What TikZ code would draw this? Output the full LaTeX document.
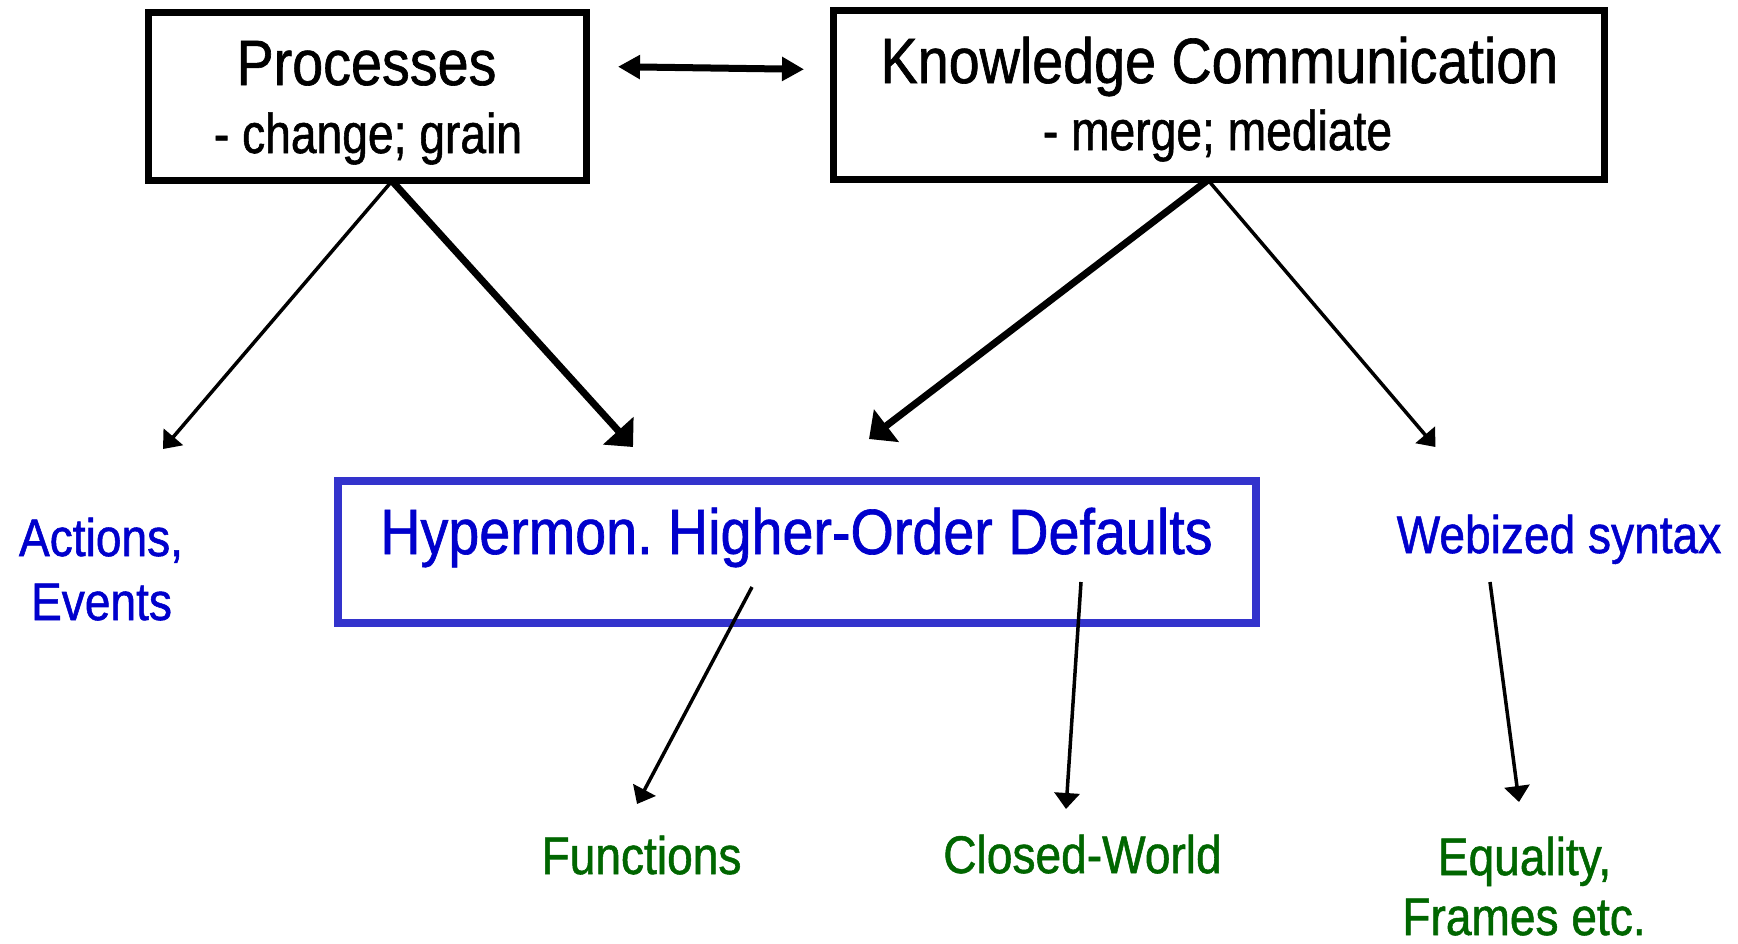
\documentclass[tikz,border=0pt]{standalone}
\usepackage{fontspec}
\setmainfont{Liberation Sans}
\newfontfamily\fbig[FakeStretch=0.87,FakeBold=1]{Liberation Sans}
\newfontfamily\fhyp[FakeStretch=0.87,FakeBold=1]{Liberation Sans}
\newfontfamily\fsub[FakeStretch=0.825,FakeBold=1]{Liberation Sans}
\newfontfamily\flab[FakeStretch=0.87,FakeBold=1]{Liberation Sans}
\usetikzlibrary{arrows.meta}
\definecolor{boxblue}{RGB}{51,51,204}
\definecolor{txtblue}{RGB}{0,0,204}
\definecolor{txtgreen}{RGB}{0,102,0}
\frenchspacing
\begin{document}
\begin{tikzpicture}[x=0.5pt,y=-0.5pt,
  blackbox/.style={draw=black,line width=3.5pt,inner sep=0pt},
  bluebox/.style={draw=boxblue,line width=4pt,inner sep=0pt},
  bigtxt/.style={inner sep=0pt,anchor=base,font=\fbig\fontsize{32pt}{38pt}\selectfont},
  hyptxt/.style={inner sep=0pt,anchor=base,text=txtblue,font=\fhyp\fontsize{32pt}{38pt}\selectfont},
  subtxt/.style={inner sep=0pt,anchor=base,font=\fsub\fontsize{28pt}{33pt}\selectfont},
  bluelab/.style={inner sep=0pt,anchor=base,text=txtblue,font=\flab\fontsize{26.5pt}{31pt}\selectfont},
  greenlab/.style={inner sep=0pt,anchor=base,text=txtgreen,font=\flab\fontsize{26.5pt}{31pt}\selectfont},
  thinarr/.style={-{Triangle[length=8pt,width=12.5pt]},line width=1.75pt},
  thickarr/.style={-{Triangle[length=11pt,width=20pt]},line width=3.5pt},
  dblarr/.style={{Triangle[length=11pt,width=11.5pt]}-{Triangle[length=11pt,width=11.5pt]},line width=3.5pt}]
\useasboundingbox[fill=white] (0,0) rectangle (1738,943);

% boxes
\node[blackbox,minimum width=219pt,minimum height=84pt] (proc) at (367.5,96.5) {};
\node[blackbox,minimum width=385.5pt,minimum height=84.5pt] (kc) at (1219,95) {};
\node[bluebox,minimum width=459pt,minimum height=71pt] (hyp) at (797,552) {};

% box texts
\node[bigtxt] (proct) at (366.5,85) {Processes};
\node[subtxt] (procs) at (368,153) {- change; grain};
\node[bigtxt] (kct) at (1219.5,83) {Knowledge Communication};
\node[subtxt] (kcs) at (1217.5,150) {- merge; mediate};
\node[hyptxt] (hypt) at (796.5,554) {Hypermon. Higher-Order Defaults};

% labels
\node[bluelab] (act1) at (101,556) {Actions,};
\node[bluelab] (act2) at (101.5,620) {Events};
\node[bluelab] (web) at (1559,553) {Webized syntax};
\node[greenlab] (func) at (641.5,874) {Functions};
\node[greenlab] (cw) at (1082.5,873) {Closed-World};
\node[greenlab] (eq1) at (1524.5,875) {Equality,};
\node[greenlab] (eq2) at (1524,935) {Frames etc.};

% connector end points
\coordinate (da1) at (618,66.7);
\coordinate (da2) at (804,69.3);
\coordinate (ps) at (392,181);
\coordinate (ks) at (1208,180);
\coordinate (actTip) at (163,449);
\coordinate (hypTipL) at (633,447);
\coordinate (hypTipR) at (869,439);
\coordinate (webTip) at (1435.5,447);
\coordinate (fs) at (752,587);
\coordinate (fTip) at (637,804);
\coordinate (cs) at (1081,582);
\coordinate (cTip) at (1066,809);
\coordinate (ws) at (1490,582);
\coordinate (wTip) at (1519,802);

% connectors
\draw[dblarr] (da1) -- (da2);
\draw[thinarr] (ps) -- (actTip);
\draw[thickarr] (ps) -- (hypTipL);
\draw[thickarr] (ks) -- (hypTipR);
\draw[thinarr] (ks) -- (webTip);
\draw[thinarr] (fs) -- (fTip);
\draw[thinarr] (cs) -- (cTip);
\draw[thinarr] (ws) -- (wTip);
\end{tikzpicture}
\end{document}
